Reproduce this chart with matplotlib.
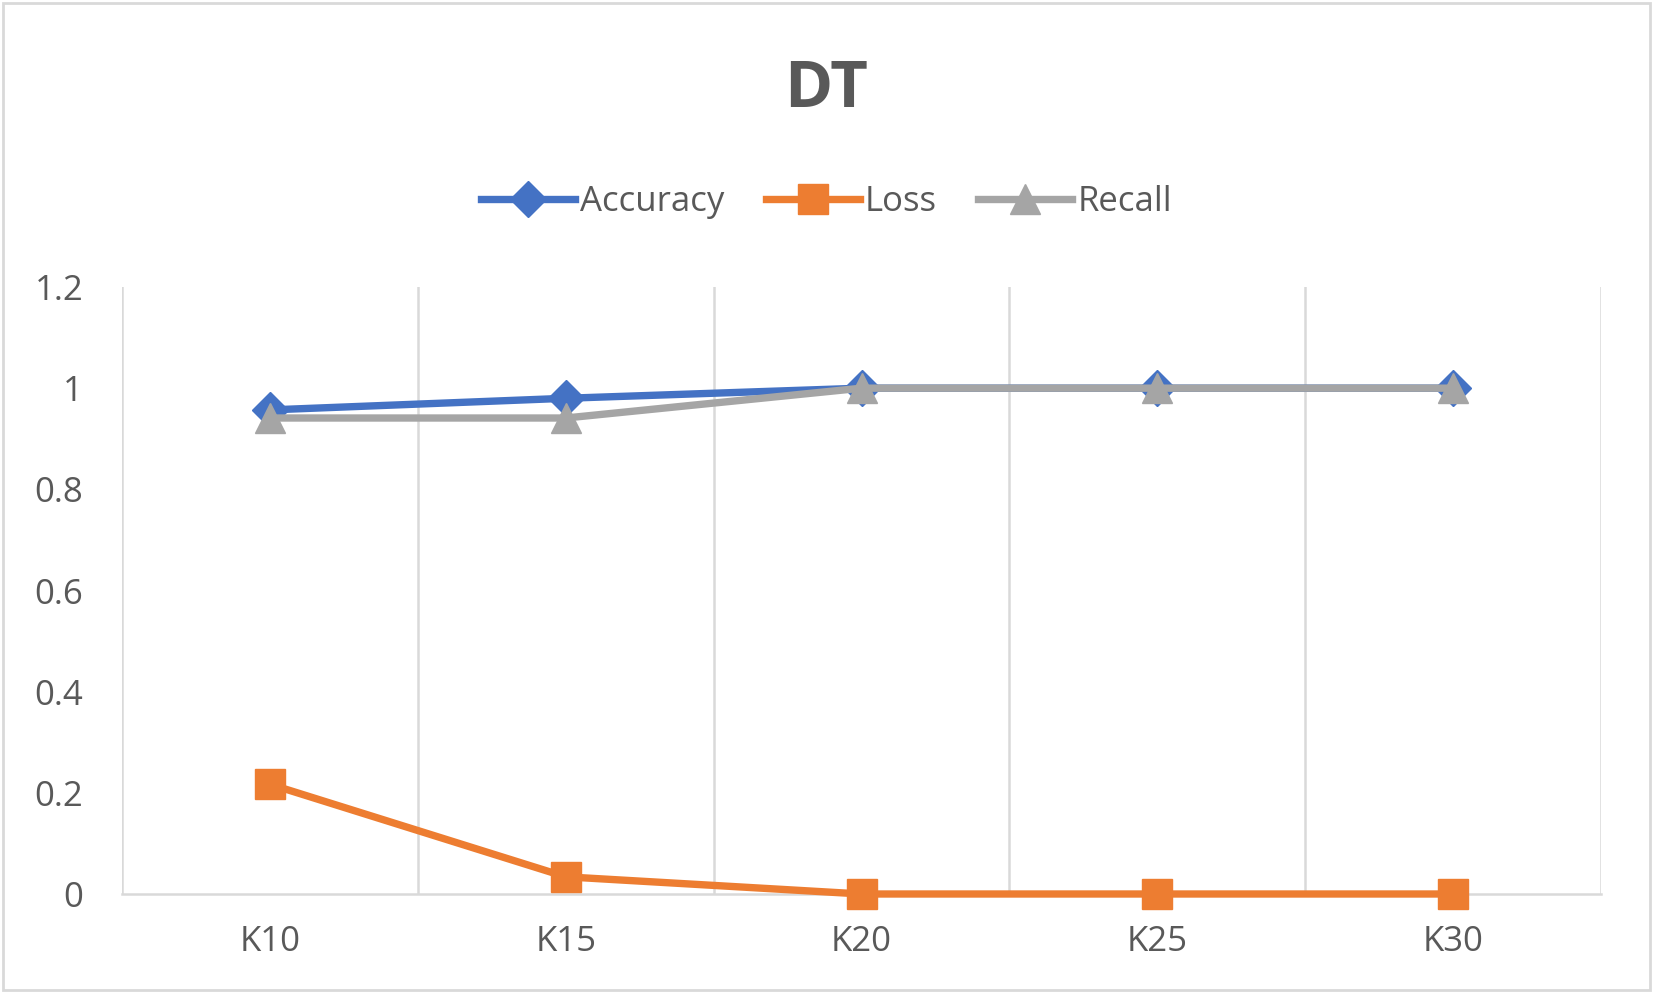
import matplotlib
matplotlib.use("Agg")
import matplotlib.pyplot as plt
from matplotlib.ticker import FixedLocator

plt.rcParams["font.family"] = ["Open Sans", "DejaVu Sans"]

# Data
categories = ["K10", "K15", "K20", "K25", "K30"]
accuracy = [0.957, 0.98, 1.0, 1.0, 1.0]
loss = [0.217, 0.034, 0.0, 0.0, 0.0]
recall = [0.941, 0.941, 1.0, 1.0, 1.0]

text_color = "#595959"
grid_color = "#d9d9d9"

fig = plt.figure(figsize=(16.53, 9.93), dpi=100)
ax = fig.add_axes([122 / 1653, 1 - 894 / 993, (1601 - 122) / 1653, (894 - 287) / 993])

x = list(range(len(categories)))
ax.plot(x, accuracy, color="#4472c4", lw=5.3, marker="D", ms=18,
        label="Accuracy", zorder=3, clip_on=False)
ax.plot(x, loss, color="#ed7d31", lw=5.3, marker="s", ms=21,
        label="Loss", zorder=3, clip_on=False)
ax.plot(x, recall, color="#a5a5a5", lw=5.3, marker="^", ms=22,
        label="Recall", zorder=4, clip_on=False)

ax.set_xlim(-0.5, len(categories) - 0.5)
ax.set_ylim(0, 1.2)
ax.set_yticks([0, 0.2, 0.4, 0.6, 0.8, 1.0, 1.2])
ax.set_yticklabels(["0", "0.2", "0.4", "0.6", "0.8", "1", "1.2"])
ax.set_xticks(x)
ax.set_xticklabels(categories)

# vertical gridlines sit between categories
ax.xaxis.set_minor_locator(FixedLocator([i - 0.5 for i in range(len(categories) + 1)]))
ax.grid(True, which="minor", axis="x", color=grid_color, lw=1.8)
ax.grid(False, which="major")

for side in ["top", "right", "left"]:
    ax.spines[side].set_visible(False)
ax.spines["bottom"].set_color(grid_color)
ax.spines["bottom"].set_linewidth(1.8)
ax.spines["bottom"].set_zorder(2)

ax.tick_params(axis="both", which="both", length=0, colors=text_color, labelsize=25)
ax.tick_params(axis="y", pad=28)
ax.tick_params(axis="x", pad=22)

fig.text(0.5, 1 - 91 / 993, "DT", ha="center", va="center", fontsize=47,
         fontweight="bold", color=text_color)

fig.legend(loc="center", bbox_to_anchor=(0.5, 1 - 202 / 993), ncol=3,
           frameon=False, fontsize=25, labelcolor=text_color,
           handlelength=2.7, columnspacing=1.2, handletextpad=0.15)

# thin light border around the whole chart
fig.patches.append(plt.Rectangle((0.002, 0.003), 0.996, 0.994, transform=fig.transFigure,
                                 fill=False, edgecolor=grid_color, lw=2))

fig.savefig("out.png", dpi=100)
